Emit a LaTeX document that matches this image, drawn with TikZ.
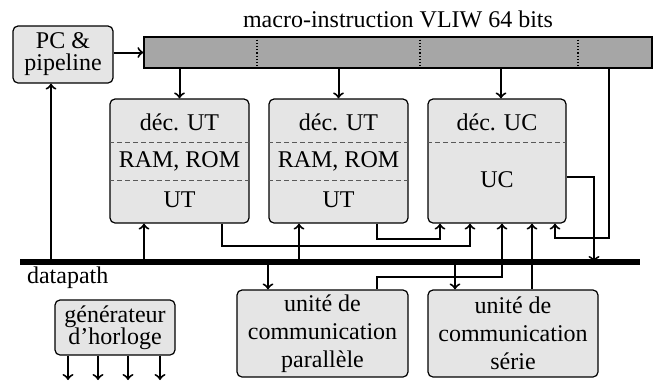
\documentclass[tikz,border=0pt]{standalone}
\usepackage{fontspec}
\setmainfont{Liberation Serif}
\usetikzlibrary{calc}

\tikzset{
  bloc/.style={draw, line width=.6pt, rounded corners=2.5pt, fill=black!10, inner sep=0pt},
  fil/.style={line width=1pt, ->},
  sep/.style={black!65, line width=.5pt, dash pattern=on 2.5pt off 1.5pt}
}

\begin{document}
\begin{tikzpicture}[x=0.5pt, y=-0.5pt, font=\fontsize{12}{14}\selectfont]
\useasboundingbox (0,0) rectangle (655,381);

% PC and instruction word
\node[bloc, minimum width=50pt, minimum height=28.5pt, align=center,
  font=\fontsize{12}{11}\selectfont] (pc) at (63,54.5) {PC \&\\pipeline};
\node[draw, line width=.6pt, fill=black!35, minimum width=254pt, minimum height=15.5pt,
  inner sep=0pt] (instr) at (398,52.5) {};
\foreach \x in {257,420,578}{
\draw[densely dotted, line width=.6pt] (instr.north -| \x,0) -- (instr.south -| \x,0);
}
\node[anchor=base] (titre) at (398,27) {macro-instruction VLIW 64 bits};
\draw[fil] (pc.east |- instr.west) -- (instr.west);

% processing units
\foreach \n/\x in {ut1/179.5, ut2/338.5}{
\node[bloc, minimum width=69.5pt, minimum height=62pt] (\n) at (\x,161) {};
\node (\n-dec) at (\x,122) {déc. UT};
\node (\n-mem) at (\x,161) {RAM, ROM};
\node (\n-ut) at (\x,200) {UT};
\draw[sep] (\n.west |- 0,142) -- (\n.east |- 0,142);
\draw[sep] (\n.west |- 0,180) -- (\n.east |- 0,180);
\draw[fil] (instr.south -| \n) -- (\n.north);
}

% control unit
\node[bloc, minimum width=69pt, minimum height=62pt] (uc) at (497,161) {};
\node (uc-dec) at (497,122) {déc. UC};
\node (uc-uc) at (497,180) {UC};
\draw[sep] (uc.west |- 0,142) -- (uc.east |- 0,142);
\draw[fil] (instr.south -| 501,0) -- (uc.north -| 501,0);
\draw[fil] (instr.south -| 609,0) |- (555,238) -- (uc.south -| 555,0);

% datapath
\coordinate (bus-w) at (20,262);
\coordinate (bus-e) at (640,262);
\node[anchor=base west] (datapath) at (20,283) {datapath};

% communication units and clock
\node[bloc, minimum width=85.5pt, minimum height=43.5pt, align=center] (par) at (322.5,333.5)
  {unité de\\communication\\parallèle};
\node[bloc, minimum width=85pt, minimum height=43.5pt, align=center] (ser) at (513,333.5)
  {unité de\\communication\\série};
\node[bloc, minimum width=60pt, minimum height=27.5pt, align=center,
  font=\fontsize{12}{11}\selectfont] (clk) at (115,327.5) {générateur\\d’horloge};
\foreach \x in {68,98,128,160}{
\draw[fil] (clk.south -| \x,0) -- (\x,380);
}

% connections
\draw[fil] (bus-w -| 51,0) -- (pc.south -| 51,0);
\draw[fil] (bus-w -| 144,0) -- (ut1.south -| 144,0);
\draw[fil] (bus-w -| 299,0) -- (ut2.south -| 299,0);
\draw[fil] (ut1.south -| 222,0) |- (470,246) -- (uc.south -| 470,0);
\draw[fil] (ut2.south -| 377,0) |- (440,239) -- (uc.south -| 440,0);
\draw[fil] (par.north -| 377,0) |- (502,277) -- (uc.south -| 502,0);
\draw[fil] (ser.north -| 532,0) -- (uc.south -| 532,0);
\draw[fil] (uc.east |- 0,177) -| (bus-e -| 594,0);
\draw[fil] (bus-w -| 268,0) -- (par.north -| 268,0);
\draw[fil] (bus-w -| 455,0) -- (ser.north -| 455,0);
\draw[line width=3.2pt] (bus-w) -- (bus-e);
\end{tikzpicture}
\end{document}
